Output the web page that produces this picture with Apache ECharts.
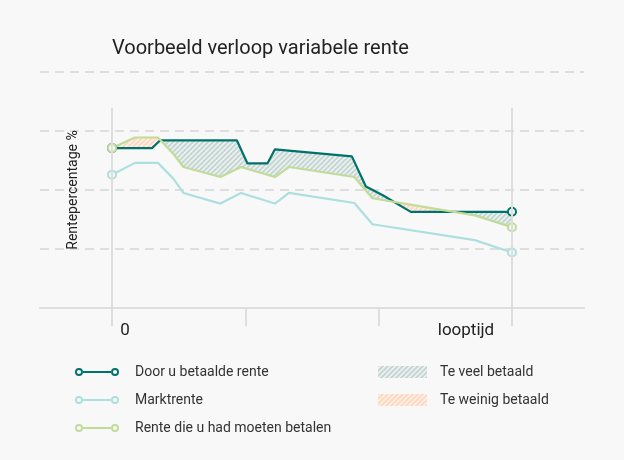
<!DOCTYPE html>
<html><head><meta charset="utf-8">
<script src="https://cdn.jsdelivr.net/npm/echarts@6/dist/echarts.min.js"></script>
<style>html,body{margin:0;padding:0;background:#f8f8f8}#c{width:624px;height:460px}</style>
</head><body><div id="c"></div><script>
// ---- data (x = looptijd units, 0..30; y = rente %) ----
const paidX   = [0, 3.0, 3.6, 9.37, 10.16, 11.66, 12.22, 17.99, 19.04, 20.31, 22.41, 30];
const paidY   = [2.71, 2.71, 2.84, 2.84, 2.45, 2.45, 2.69, 2.57, 2.06, 1.91, 1.63, 1.63];
const shouldX = [0, 1.72, 3.45, 4.57, 5.36, 8.13, 9.67, 12.22, 13.27, 18.18, 19.53, 27.21, 30];
const shouldY = [2.71, 2.89, 2.89, 2.62, 2.39, 2.22, 2.39, 2.22, 2.39, 2.22, 1.86, 1.57, 1.37];
const marketX = [0, 1.72, 3.45, 4.57, 5.36, 8.13, 9.67, 12.22, 13.27, 18.18, 19.53, 27.21, 30];
const marketY = [2.26, 2.46, 2.46, 2.20, 1.95, 1.77, 1.95, 1.77, 1.95, 1.78, 1.42, 1.15, 0.94];
const xTickValues  = [0, 10, 20, 30];
const xLabelValues = [0, 30];
const xLabels      = ['0', 'looptijd'];
const names = ['Door u betaalde rente', 'Marktrente', 'Rente die u had moeten betalen', 'Te veel betaald', 'Te weinig betaald'];

const TEAL = '#00716b', CYAN = '#ace0df', LGREEN = '#c0dc98', GRID = '#dedede', BG = '#f8f8f8';

function hatch(bg, fg) {
  const c = document.createElement('canvas'); c.width = 5; c.height = 5;
  const g = c.getContext('2d'); g.fillStyle = bg; g.fillRect(0, 0, 5, 5);
  g.strokeStyle = fg; g.lineWidth = 1.8; g.beginPath();
  g.moveTo(-1, 6); g.lineTo(6, -1);
  g.moveTo(-1, 1); g.lineTo(1, -1);
  g.moveTo(4, 6); g.lineTo(6, 4);
  g.stroke();
  return { image: c, repeat: 'repeat' };
}
const patOver = hatch('#ecf1f0', '#c4d4d1');
const patUnder = hatch('#fff0e7', '#ffd6c0');

const zip = (xs, ys) => xs.map((x, i) => [x, ys[i]]);
function interp(xs, ys, x) {
  for (let i = 0; i < xs.length - 1; i++) {
    if (x >= xs[i] && x <= xs[i + 1]) {
      const t = (x - xs[i]) / (xs[i + 1] - xs[i]);
      return ys[i] + t * (ys[i + 1] - ys[i]);
    }
  }
  return ys[ys.length - 1];
}
function regions(sign) {
  const xs = Array.from(new Set(paidX.concat(shouldX))).sort((a, b) => a - b);
  const pts = xs.map(x => ({ x, p: interp(paidX, paidY, x), s: interp(shouldX, shouldY, x) }));
  const full = [];
  for (let i = 0; i < pts.length; i++) {
    full.push(pts[i]);
    if (i < pts.length - 1) {
      const da = pts[i].p - pts[i].s, db = pts[i + 1].p - pts[i + 1].s;
      if (da * db < 0) {
        const t = da / (da - db);
        const x = pts[i].x + t * (pts[i + 1].x - pts[i].x);
        const y = pts[i].p + t * (pts[i + 1].p - pts[i].p);
        full.push({ x, p: y, s: y });
      }
    }
  }
  const runs = []; let cur = [];
  full.forEach(pt => {
    if ((pt.p - pt.s) * sign >= -1e-9) cur.push(pt);
    else { if (cur.length > 1) runs.push(cur); cur = []; }
  });
  if (cur.length > 1) runs.push(cur);
  return runs;
}
function fillSeries(name, sign, pat) {
  return {
    name, type: 'custom', coordinateSystem: 'cartesian2d', z: 1, silent: true,
    data: [[0, 0]],
    itemStyle: { color: pat },
    renderItem: (params, api) => ({
      type: 'group',
      children: regions(sign).map(run => ({
        type: 'polygon',
        shape: { points: run.map(r => api.coord([r.x, r.p])).concat(run.slice().reverse().map(r => api.coord([r.x, r.s]))) },
        style: { fill: pat, stroke: null }
      }))
    })
  };
}
function lineSeries(name, xs, ys, color, extra) {
  const last = xs.length - 1;
  return Object.assign({
    name, type: 'line', data: zip(xs, ys), z: 3,
    showSymbol: true, symbolSize: 8,
    symbol: (v, p) => (p.dataIndex === 0 || p.dataIndex === last) ? 'circle' : 'none',
    itemStyle: { color: BG, borderColor: color, borderWidth: 2 },
    lineStyle: { color, width: 2.2 },
    emphasis: { disabled: true }, silent: true
  }, extra || {});
}
const ring = 'path://M0,4A4,4 0 1,0 8,4A4,4 0 1,0 0,4Z M1.9,4A2.1,2.1 0 1,1 6.1,4A2.1,2.1 0 1,1 1.9,4Z M36,4A4,4 0 1,0 44,4A4,4 0 1,0 36,4Z M37.9,4A2.1,2.1 0 1,1 42.1,4A2.1,2.1 0 1,1 37.9,4Z M7.8,3L36.2,3L36.2,5L7.8,5Z';

const chart = echarts.init(document.getElementById('c'), null, { renderer: 'canvas' });
chart.setOption({
  backgroundColor: BG,
  animation: false,
  textStyle: { fontFamily: 'Roboto' },
  title: { text: 'Voorbeeld verloop variabele rente', left: 107, top: 34,
    textStyle: { fontSize: 20, fontWeight: 'normal', color: '#222', fontFamily: 'Roboto' } },
  grid: { left: 40, right: 40, top: 72, bottom: 152 },
  xAxis: {
    type: 'value', min: -5.4, max: 35.4,
    axisLine: { show: true, lineStyle: { color: GRID, width: 2 } },
    axisTick: { show: true, customValues: xTickValues, length: 18, lineStyle: { color: GRID, width: 2 } },
    axisLabel: {
      customValues: xLabelValues, margin: 14,
      formatter: v => v === xLabelValues[0] ? '{a|' + xLabels[0] + '}' : '{b|' + xLabels[1] + '}',
      rich: {
        a: { fontSize: 17, color: '#222', fontFamily: 'Roboto', padding: [0, 0, 0, 26] },
        b: { fontSize: 17, color: '#222', fontFamily: 'Roboto', padding: [0, 92, 0, 0] }
      }
    },
    splitLine: { show: false }
  },
  yAxis: {
    type: 'value', min: 0, max: 4, interval: 1,
    name: 'Rentepercentage %', nameLocation: 'middle', nameGap: -40,
    nameTextStyle: { fontSize: 14, color: '#222', fontFamily: 'Roboto' },
    axisLine: { show: false }, axisTick: { show: false }, axisLabel: { show: false },
    splitLine: { show: true, lineStyle: { color: GRID, width: 2, type: [9, 6] } }
  },
  legend: [
    { orient: 'vertical', left: 70, top: 359, itemWidth: 44, itemHeight: 8, itemGap: 12, selectedMode: false,
      textStyle: { fontSize: 14, color: '#333', fontFamily: 'Roboto', lineHeight: 16, padding: [0, 0, 0, 11] },
      data: [
        { name: names[0], icon: ring, itemStyle: { color: TEAL, borderWidth: 0 } },
        { name: names[1], icon: ring, itemStyle: { color: CYAN, borderWidth: 0 } },
        { name: names[2], icon: ring, itemStyle: { color: LGREEN, borderWidth: 0 } }
      ] },
    { orient: 'vertical', left: 373, top: 359, itemWidth: 49, itemHeight: 12, itemGap: 12, selectedMode: false,
      textStyle: { fontSize: 14, color: '#333', fontFamily: 'Roboto', lineHeight: 16, padding: [0, 0, 0, 8] },
      data: [
        { name: names[3], icon: 'rect', itemStyle: { color: patOver, borderWidth: 0 } },
        { name: names[4], icon: 'rect', itemStyle: { color: patUnder, borderWidth: 0 } }
      ] }
  ],
  series: [
    fillSeries(names[3], 1, patOver),
    fillSeries(names[4], -1, patUnder),
    lineSeries(names[1], marketX, marketY, CYAN, {
      markLine: { silent: true, symbol: ['none', 'none'], label: { show: false },
        lineStyle: { color: GRID, width: 2, type: 'solid' },
        data: [
          [{ coord: [xTickValues[0], 0] }, { coord: [xTickValues[0], 3.39] }],
          [{ coord: [xTickValues[3], 0] }, { coord: [xTickValues[3], 3.39] }]
        ] }
    }),
    lineSeries(names[0], paidX, paidY, TEAL),
    lineSeries(names[2], shouldX, shouldY, LGREEN)
  ]
});
</script></body></html>
